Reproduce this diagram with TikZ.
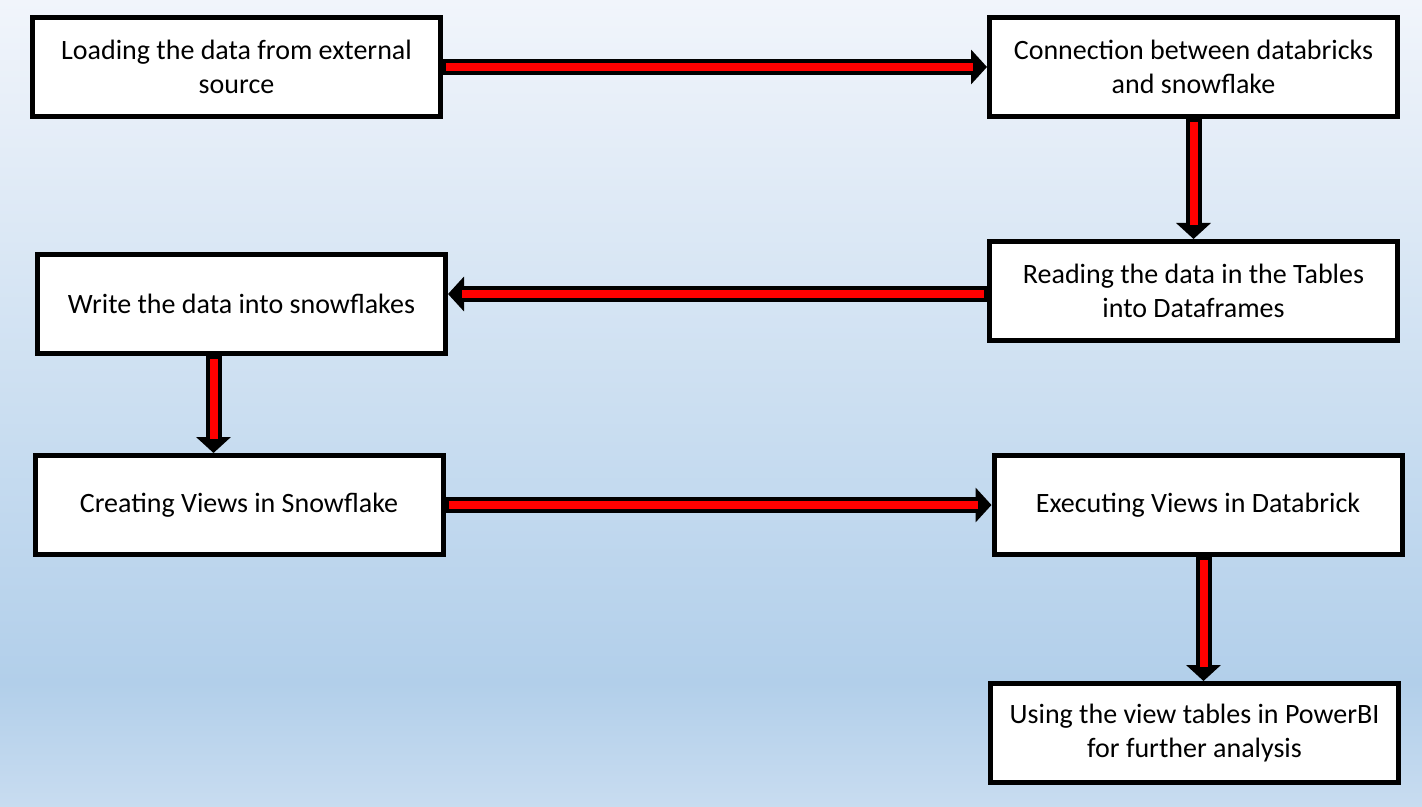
\documentclass[tikz,border=0pt]{standalone}
\usepackage{fontspec}
\setmainfont{Carlito}
\usepackage{xcolor}
\usetikzlibrary{positioning,arrows.meta,calc}

\definecolor{bgtop}{HTML}{F1F5FB}
\definecolor{bgupper}{HTML}{E6EEF8}
\definecolor{bgmid}{HTML}{D8E6F4}
\definecolor{bglow}{HTML}{C7DCF0}
\definecolor{bgdark}{HTML}{B2CFEA}
\definecolor{bgbottom}{HTML}{C8DCF0}
\pgfdeclareverticalshading{slidebg}{100bp}{color(0bp)=(bgbottom); color(25bp)=(bgbottom); color(32.7bp)=(bgdark); color(47.1bp)=(bglow); color(58.3bp)=(bgmid); color(67.6bp)=(bgupper); color(75bp)=(bgtop); color(100bp)=(bgtop)}

\tikzset{
    stepbox/.style={rectangle, draw=black, fill=white, line width=2.5pt, align=center,
        minimum width=204pt, minimum height=49.5pt, inner sep=0pt,
        font=\fontsize{14}{17}\selectfont},
    arrowout/.style={black, line width=8pt, -{Triangle[width=17pt,length=8pt]}},
    arrowin/.style={red, line width=4pt, shorten >=7pt, shorten <=1.5pt}
}

\begin{document}
\begin{tikzpicture}
    % Background
    \shade[shading=slidebg] (0,0) rectangle (711pt,-403.5pt);
    \useasboundingbox (0,0) rectangle (711pt,-403.5pt);

    %Nodes
    \node (load)   [stepbox] at (118.25pt,-33.5pt)        {Loading the data from external\\source};
    \node (conn)   [stepbox, right=272pt of load]          {Connection between databricks\\and snowflake};
    \node (read)   [stepbox, below=60pt of conn]           {Reading the data in the Tables\\into Dataframes};
    \node (write)  [stepbox, left=269.5pt of read, yshift=-6.5pt] {Write the data into snowflakes};
    \node (create) [stepbox, below=48.5pt of write, xshift=-1.25pt] {Creating Views in Snowflake};
    \node (exec)   [stepbox, right=273pt of create]        {Executing Views in Databrick};
    \node (using)  [stepbox, below=62pt of exec, xshift=-1.75pt] {Using the view tables in PowerBI\\for further analysis};

    % Arrow ends off the box centres
    \coordinate (writeout) at ([xshift=-14pt]write.south);
    \coordinate (execout)  at ([xshift=2.75pt]exec.south);
    \coordinate (readout)  at ([yshift=-1.5pt]read.west);

    %Lines
    \foreach \from/\to in {load.east/conn.west, conn.south/read.north, readout/readout -| write.east,
                           writeout/writeout |- create.north, create.east/exec.west, execout/execout |- using.north} {
        \draw[arrowout] (\from) -- (\to);
        \draw[arrowin]  (\from) -- (\to);
    }
\end{tikzpicture}
\end{document}
